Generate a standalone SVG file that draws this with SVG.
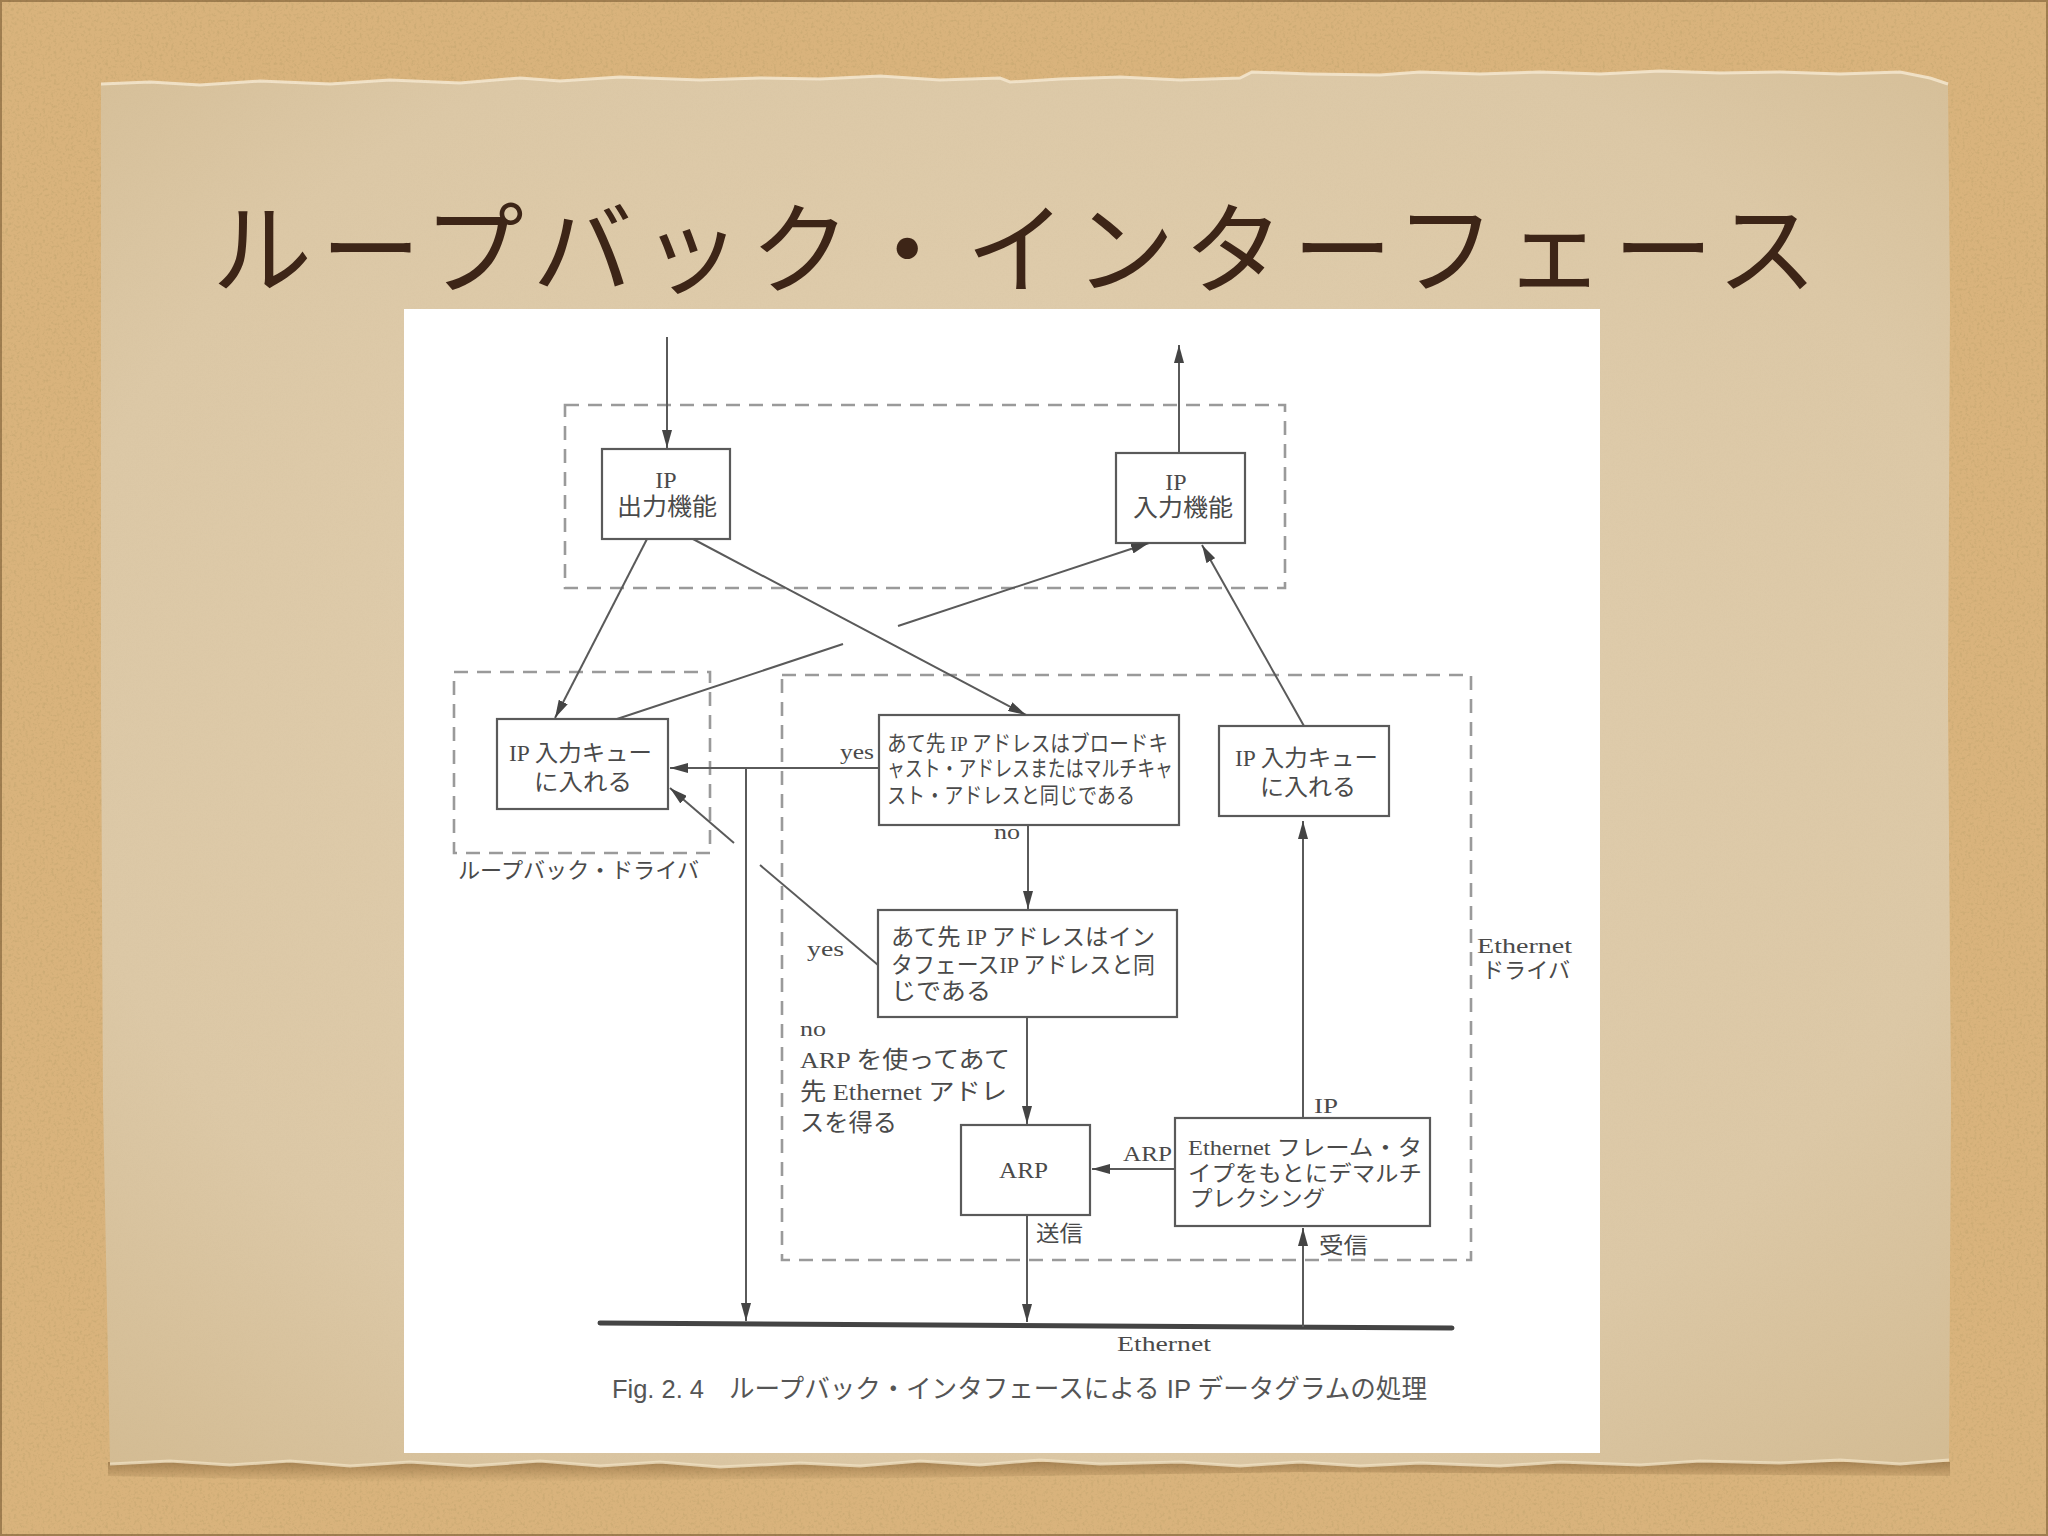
<svg xmlns="http://www.w3.org/2000/svg" width="2048" height="1536" viewBox="0 0 2048 1536">
<defs>
<style>
.t{font-family:"Liberation Serif","Noto Sans CJK JP",serif;fill:#4a4a4a;font-size:22px}
.t24{font-size:24px}
.t23{font-size:23px}
.cap{font-family:"Liberation Sans","Noto Sans CJK JP",sans-serif;fill:#555;font-size:26px}
.box{fill:none;stroke:#5a5a5a;stroke-width:2.2}
.dash{fill:none;stroke:#9a9a9a;stroke-width:2.6;stroke-dasharray:14 9}
.ln{fill:none;stroke:#5a5a5a;stroke-width:2}
.arr{fill:none;stroke:#5a5a5a;stroke-width:2;marker-end:url(#ah)}
.title{font-family:"Noto Sans CJK JP",sans-serif;font-size:100px;fill:#3d2517;font-weight:400}
</style>
<marker id="ah" viewBox="0 0 18 10" refX="18" refY="5" markerWidth="18" markerHeight="10" markerUnits="userSpaceOnUse" orient="auto">
<path d="M0,0 L18,5 L0,10 z" fill="#444"/>
</marker>
<filter id="noise" x="0" y="0" width="100%" height="100%">
<feTurbulence type="fractalNoise" baseFrequency="0.35" numOctaves="3" seed="4"/>
<feColorMatrix type="matrix" values="0 0 0 0 0.55  0 0 0 0 0.38  0 0 0 0 0.16  3 0 0 0 -1.45"/>
</filter>
<filter id="noise2" x="0" y="0" width="100%" height="100%">
<feTurbulence type="fractalNoise" baseFrequency="0.6" numOctaves="3" seed="9"/>
<feColorMatrix type="matrix" values="0 0 0 0 0.5  0 0 0 0 0.4  0 0 0 0 0.25  1 0 0 0 -0.4"/>
</filter>
<radialGradient id="paperG" cx="0.5" cy="0.45" r="0.75">
<stop offset="0" stop-color="#e1cfb0"/>
<stop offset="0.7" stop-color="#dcc8a6"/>
<stop offset="1" stop-color="#d3bb92"/>
</radialGradient>
<linearGradient id="shadowG" x1="0" y1="0" x2="0" y2="1">
<stop offset="0" stop-color="#6b4a22" stop-opacity="0.45"/>
<stop offset="1" stop-color="#6b4a22" stop-opacity="0"/>
</linearGradient>
</defs>

<!-- cork background -->
<rect x="0" y="0" width="2048" height="1536" fill="#d9b37c"/>
<rect x="0" y="0" width="2048" height="1536" filter="url(#noise)" opacity="0.6"/>

<!-- paper shadow -->
<path d="M108,1462 L1950,1462 L1950,1476 L1300,1472 L900,1478 L400,1482 L108,1476 z" fill="url(#shadowG)"/>

<!-- paper -->
<path id="paper" d="M101,84 L150,82 L200,85 L260,81 L330,84 L390,80 L460,83 L520,78 L560,81 L620,77 L700,80 L760,78 L820,79 L880,76 L940,80 L1000,78 L1010,82 L1060,79 L1120,77 L1180,80 L1240,78 L1252,72 L1310,74 L1380,75 L1420,72 L1480,74 L1540,72 L1600,74 L1660,71 L1720,73 L1780,72 L1840,74 L1900,72 L1930,78 L1948,84 L1950,300 L1948,700 L1951,1100 L1949,1460 L1900,1464 L1840,1460 L1780,1463 L1700,1461 L1640,1465 L1560,1462 L1500,1466 L1420,1463 L1360,1466 L1300,1462 L1240,1466 L1180,1462 L1100,1464 L1040,1460 L980,1465 L920,1461 L860,1466 L800,1463 L720,1467 L660,1462 L600,1466 L540,1461 L470,1466 L410,1462 L350,1466 L290,1461 L230,1465 L170,1461 L110,1464 L103,1100 L101,700 z" fill="url(#paperG)"/>
<path d="M101,84 L150,82 L200,85 L260,81 L330,84 L390,80 L460,83 L520,78 L560,81 L620,77 L700,80 L760,78 L820,79 L880,76 L940,80 L1000,78 L1010,82 L1060,79 L1120,77 L1180,80 L1240,78 L1252,72 L1310,74 L1380,75 L1420,72 L1480,74 L1540,72 L1600,74 L1660,71 L1720,73 L1780,72 L1840,74 L1900,72 L1930,78 L1948,84" fill="none" stroke="#f4e8d0" stroke-width="3" opacity="0.85"/>
<path d="M110,1464 L170,1461 L230,1465 L290,1461 L350,1466 L410,1462 L470,1466 L540,1461 L600,1466 L660,1462 L720,1467 L800,1463 L860,1466 L920,1461 L980,1465 L1040,1460 L1100,1464 L1180,1462 L1240,1466 L1300,1462 L1360,1466 L1420,1463 L1500,1466 L1560,1462 L1640,1465 L1700,1461 L1780,1463 L1840,1460 L1900,1464 L1949,1460" fill="none" stroke="#efe0c2" stroke-width="3" opacity="0.8"/>
<rect x="101" y="80" width="1850" height="1384" filter="url(#noise2)" opacity="0.1"/>

<!-- frame -->
<rect x="1" y="1" width="2046" height="1534" fill="none" stroke="#5a3e1a" stroke-width="2" opacity="0.45"/>

<!-- title -->
<text class="title" x="212" y="286" textLength="1605" lengthAdjust="spacing">ループバック・インターフェース</text>

<!-- white figure panel -->
<rect x="404" y="309" width="1196" height="1144" fill="#ffffff"/>

<!-- dashed group boxes -->
<g id="ip-layer">
<rect class="dash" x="565" y="405" width="720" height="183"/>
</g>
<g id="loopback-driver">
<rect class="dash" x="454" y="672" width="256" height="181"/>
<text class="t" x="458" y="878" textLength="241" lengthAdjust="spacingAndGlyphs">ループバック・ドライバ</text>
</g>
<g id="ethernet-driver">
<rect class="dash" x="782" y="675" width="689" height="585"/>
<text class="t" x="1477" y="953" textLength="95" lengthAdjust="spacingAndGlyphs">Ethernet</text>
<text class="t" x="1482" y="978" textLength="88" lengthAdjust="spacingAndGlyphs">ドライバ</text>
</g>

<!-- nodes -->
<g id="ip-output">
<rect class="box" x="602" y="449" width="128" height="90"/>
<text class="t t24" x="666" y="488" text-anchor="middle">IP</text>
<text class="t t24" x="617" y="515" textLength="100" lengthAdjust="spacingAndGlyphs">出力機能</text>
</g>
<g id="ip-input">
<rect class="box" x="1116" y="453" width="129" height="90"/>
<text class="t t24" x="1176" y="490" text-anchor="middle">IP</text>
<text class="t t24" x="1133" y="516" textLength="100" lengthAdjust="spacingAndGlyphs">入力機能</text>
</g>
<g id="loopback-queue">
<rect class="box" x="497" y="719" width="171" height="90"/>
<text class="t t23" x="509" y="761" textLength="143" lengthAdjust="spacingAndGlyphs">IP 入力キュー</text>
<text class="t t23" x="534" y="790" textLength="98" lengthAdjust="spacingAndGlyphs">に入れる</text>
</g>
<g id="broadcast-check">
<rect class="box" x="879" y="715" width="300" height="110"/>
<text class="t" x="887" y="751" textLength="281" lengthAdjust="spacingAndGlyphs">あて先 IP アドレスはブロードキ</text>
<text class="t" x="887" y="776" textLength="286" lengthAdjust="spacingAndGlyphs">ャスト・アドレスまたはマルチキャ</text>
<text class="t" x="887" y="803" textLength="248" lengthAdjust="spacingAndGlyphs">スト・アドレスと同じである</text>
</g>
<g id="ethernet-queue">
<rect class="box" x="1219" y="726" width="170" height="90"/>
<text class="t t23" x="1235" y="766" textLength="143" lengthAdjust="spacingAndGlyphs">IP 入力キュー</text>
<text class="t t23" x="1260" y="795" textLength="96" lengthAdjust="spacingAndGlyphs">に入れる</text>
</g>
<g id="interface-check">
<rect class="box" x="878" y="910" width="299" height="107"/>
<text class="t t23" x="891" y="945" textLength="264" lengthAdjust="spacingAndGlyphs">あて先 IP アドレスはイン</text>
<text class="t t23" x="891" y="973" textLength="264" lengthAdjust="spacingAndGlyphs">タフェースIP アドレスと同</text>
<text class="t t23" x="891" y="999" textLength="100" lengthAdjust="spacingAndGlyphs">じである</text>
</g>
<g id="arp">
<rect class="box" x="961" y="1125" width="129" height="90"/>
<text class="t t24" x="999" y="1178" textLength="49" lengthAdjust="spacingAndGlyphs">ARP</text>
</g>
<g id="demux">
<rect class="box" x="1175" y="1118" width="255" height="108"/>
<text class="t" x="1188" y="1155" textLength="234" lengthAdjust="spacingAndGlyphs">Ethernet フレーム・タ</text>
<text class="t" x="1188" y="1181" textLength="234" lengthAdjust="spacingAndGlyphs">イプをもとにデマルチ</text>
<text class="t" x="1190" y="1206" textLength="135" lengthAdjust="spacingAndGlyphs">プレクシング</text>
</g>
<g id="ethernet">
<line x1="600" y1="1323" x2="1452" y2="1328" stroke="#444" stroke-width="5" stroke-linecap="round"/>
<text class="t" x="1117" y="1351" textLength="94" lengthAdjust="spacingAndGlyphs">Ethernet</text>
</g>

<!-- connectors -->
<g id="connectors">
<line class="arr" x1="667" y1="337" x2="667" y2="448"/>
<line class="arr" x1="1179" y1="453" x2="1179" y2="345"/>
<line class="arr" x1="647" y1="539" x2="555" y2="718"/>
<line class="arr" x1="693" y1="539" x2="1026" y2="715"/>
<line class="ln" x1="617" y1="719" x2="843" y2="644"/>
<line class="arr" x1="898" y1="626" x2="1149" y2="543"/>
<line class="arr" x1="1304" y1="726" x2="1202" y2="545"/>
<line class="arr" x1="879" y1="768" x2="670" y2="768"/>
<line class="arr" x1="746" y1="768" x2="746" y2="1321"/>
<line class="arr" x1="1028" y1="825" x2="1028" y2="909"/>
<line class="ln" x1="878" y1="965" x2="760" y2="865"/>
<line class="arr" x1="734" y1="843" x2="670" y2="788"/>
<line class="arr" x1="1027" y1="1017" x2="1027" y2="1124"/>
<line class="arr" x1="1027" y1="1215" x2="1027" y2="1322"/>
<line class="arr" x1="1175" y1="1169" x2="1092" y2="1169"/>
<line class="arr" x1="1303" y1="1118" x2="1303" y2="821"/>
<line class="arr" x1="1303" y1="1327" x2="1303" y2="1228"/>
</g>

<!-- connector labels -->
<g id="labels">
<text class="t" x="840" y="759" textLength="34" lengthAdjust="spacingAndGlyphs">yes</text>
<text class="t" x="994" y="839" textLength="26" lengthAdjust="spacingAndGlyphs">no</text>
<text class="t" x="807" y="956" textLength="37" lengthAdjust="spacingAndGlyphs">yes</text>
<text class="t" x="800" y="1036" textLength="26" lengthAdjust="spacingAndGlyphs">no</text>
<text class="t t24" x="800" y="1068" textLength="210" lengthAdjust="spacingAndGlyphs">ARP を使ってあて</text>
<text class="t t24" x="800" y="1100" textLength="207" lengthAdjust="spacingAndGlyphs">先 Ethernet アドレ</text>
<text class="t t24" x="800" y="1131" textLength="97" lengthAdjust="spacingAndGlyphs">スを得る</text>
<text class="t" x="1123" y="1161" textLength="49" lengthAdjust="spacingAndGlyphs">ARP</text>
<text class="t" x="1314" y="1113" textLength="24" lengthAdjust="spacingAndGlyphs">IP</text>
<text class="t" x="1036" y="1241" textLength="47" lengthAdjust="spacingAndGlyphs">送信</text>
<text class="t" x="1319" y="1253" textLength="49" lengthAdjust="spacingAndGlyphs">受信</text>
</g>

<!-- caption -->
<text class="cap" x="612" y="1398" textLength="92" lengthAdjust="spacingAndGlyphs">Fig. 2. 4</text>
<text class="cap" x="729" y="1398" textLength="698" lengthAdjust="spacingAndGlyphs">ループバック・インタフェースによる IP データグラムの処理</text>
</svg>
